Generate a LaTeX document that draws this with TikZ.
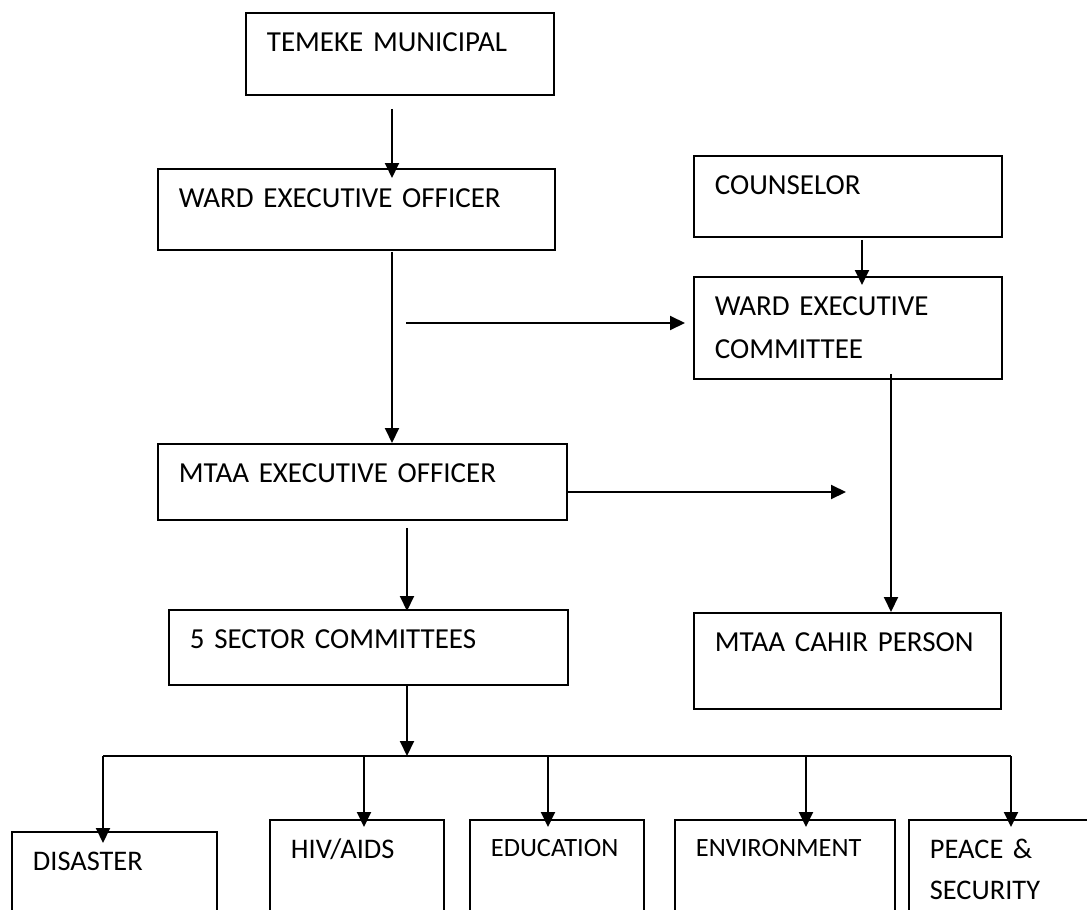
\documentclass[tikz,border=0pt]{standalone}
\usepackage{fontspec}
\setmainfont{Carlito}
\usetikzlibrary{positioning, arrows.meta}

\tikzset{
    orgbox/.style={draw, line width=0.9pt, anchor=north west, align=left,
        inner xsep=10.5pt, inner ysep=10pt, text height=9.5pt,
        font=\fontsize{14.5}{21.5}\selectfont},
    subbox/.style={orgbox, text depth=40pt,
        font=\fontsize{14.2}{20.5}\selectfont},
    smallbox/.style={subbox, text height=8.5pt,
        font=\fontsize{13.2}{20}\selectfont},
}

\begin{document}
\begin{tikzpicture}[x=0.5pt, y=-0.5pt, line width=1pt,
        >={Triangle[length=7.5pt, width=7pt]}]
            \useasboundingbox (0,0) rectangle (1087,910);
            \clip (0,0) rectangle (1087,910);

            % ward side
            \node[orgbox, text width=133pt, text depth=11.5pt] (temeke) at (245,12) {TEMEKE MUNICIPAL};
            \node[orgbox, text width=177.5pt, text depth=11pt] (weo) at (157,168) {WARD EXECUTIVE OFFICER};
            \node[orgbox, text width=183.5pt, text depth=8.5pt] (meo) at (157,443) {MTAA EXECUTIVE OFFICER};
            \node[orgbox, text width=178.5pt, text depth=8pt] (sector) at (168,609) {5 SECTOR COMMITTEES};

            % counselor side
            \node[orgbox, text width=133pt, text depth=11pt] (counselor) at (693,155) {COUNSELOR};
            \node[orgbox, text width=133pt, text depth=21.5pt] (wec) at (693,276) {WARD EXECUTIVE\\COMMITTEE};
            \node[orgbox, text width=132.5pt, text depth=18.5pt] (cahir) at (693,612) {MTAA CAHIR PERSON};

            % sector committees
            \node[subbox, text width=81.5pt] (disaster) at (11,831) {DISASTER};
            \node[subbox, text width=66pt] (hiv) at (269,819) {HIV/AIDS};
            \node[smallbox, text width=66pt] (edu) at (469,819) {EDUCATION};
            \node[smallbox, text width=89pt] (env) at (674,819) {ENVIRONMENT};
            \node[subbox, text width=80pt] (peace) at (908,819) {PEACE \&\\SECURITY};

            \coordinate (colA) at (392,0);
            \coordinate (colB) at (407,0);
            \coordinate (colC) at (891,0);
            \coordinate (colD) at (862,0);
            \coordinate (wfork) at (406,323);
            \coordinate (mend) at (846,492);
            \coordinate (busL) at (103,756);
            \coordinate (busR) at (1011,756);

            % arrows
            \draw[->, shorten <=6.5pt, shorten >=-5pt] (temeke.south -| colA) -- (weo.north -| colA);
            \draw[->, shorten <=0.5pt] (weo.south -| colA) -- (meo.north -| colA);
            \draw[->, shorten >=4pt] (wfork) -- (wec.west |- wfork);
            \draw[->, shorten <=1pt, shorten >=-4.5pt] (counselor.south -| colD) -- (wec.north -| colD);
            \draw[->] (meo.east |- mend) -- (mend);
            \draw[->, shorten <=-3pt] (wec.south -| colC) -- (cahir.north -| colC);
            \draw[->, shorten <=3.5pt, shorten >=-1pt] (meo.south -| colB) -- (sector.north -| colB);
            \draw[->] (sector.south -| colB) -- (busL -| colB);

            % bus to the five committees
            \draw (busL) -- (busR);
            \foreach \nd/\xx/\dd in {disaster/103/6pt, hiv/364/4pt, edu/548/4pt, env/806/4pt, peace/1011/4pt} {
                \coordinate (drop) at (\xx,756);
                \draw[->, shorten >=-\dd] (drop) -- (drop |- \nd.north);
            }
        \end{tikzpicture}
\end{document}
